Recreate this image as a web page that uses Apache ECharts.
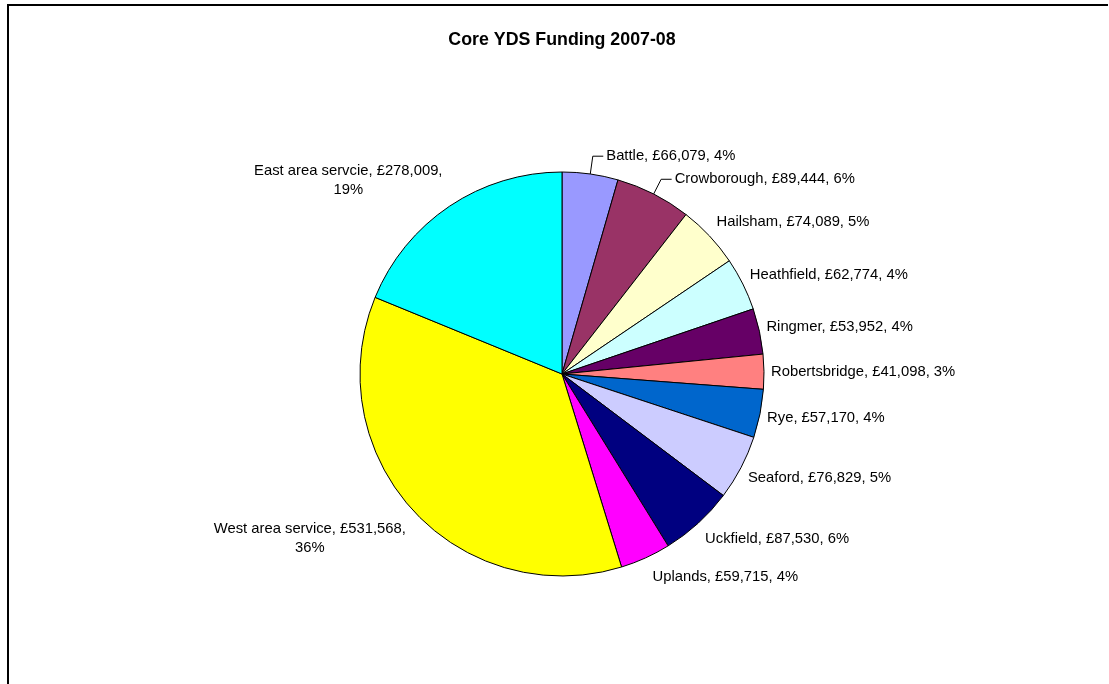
<!DOCTYPE html>
<html>
<head>
<meta charset="utf-8">
<script src="https://cdn.jsdelivr.net/npm/echarts@6/dist/echarts.min.js"></script>
<style>
  html, body { margin: 0; padding: 0; background: #fff; }
  #chart { width: 1109px; height: 684px; }
</style>
</head>
<body>
<div id="chart"></div>
<script>
// Core YDS funding by area, 2007-08 (GBP)
const titleText = 'Core YDS Funding 2007-08';
const areaNames = [
  'Battle', 'Crowborough', 'Hailsham', 'Heathfield', 'Ringmer', 'Robertsbridge',
  'Rye', 'Seaford', 'Uckfield', 'Uplands', 'West area service', 'East area servcie'
];
const funding = [
  66079, 89444, 74089, 62774, 53952, 41098,
  57170, 76829, 87530, 59715, 531568, 278009
];
const sliceColors = [
  '#9999FF', '#993366', '#FFFFCC', '#CCFFFF', '#660066', '#FF8080',
  '#0066CC', '#CCCCFF', '#000080', '#FF00FF', '#FFFF00', '#00FFFF'
];

// Labels that break before the percentage
const wrappedLabels = ['East area servcie', 'West area service'];
// Labels pulled away from the pie and joined to it with a leader line
const leaderLabels = ['Battle', 'Crowborough'];
// Extra label offsets [dx, dy] in px
const labelOffsets = {
  'Battle': [9, 3],
  'Crowborough': [14, 4],
  'West area service': [0, 8]
};

const FONT = '"Liberation Sans", Arial, Helvetica, sans-serif';

function money(v) {
  return String(v).replace(/\B(?=(\d{3})+(?!\d))/g, ',');
}

const pieData = areaNames.map(function (name, i) {
  const item = {
    name: name,
    value: funding[i],
    itemStyle: { color: sliceColors[i] }
  };
  if (leaderLabels.indexOf(name) < 0) {
    item.labelLine = { lineStyle: { opacity: 0 } };
  }
  return item;
});

const chart = echarts.init(document.getElementById('chart'), null, { renderer: 'canvas' });

chart.setOption({
  animation: false,
  backgroundColor: '#ffffff',
  title: {
    text: titleText,
    left: 562,
    textAlign: 'center',
    top: 31,
    padding: 0,
    textStyle: {
      fontFamily: FONT,
      fontSize: 17.8,
      fontWeight: 'bold',
      color: '#000'
    }
  },
  graphic: [{
    type: 'polyline',
    shape: { points: [[8, 684], [8, 5], [1108, 5]] },
    style: { stroke: '#000', lineWidth: 2, fill: null },
    silent: true
  }],
  series: [{
    type: 'pie',
    center: [562, 374],
    radius: 202,
    startAngle: 90,
    clockwise: true,
    avoidLabelOverlap: false,
    itemStyle: { borderColor: '#000', borderWidth: 1 },
    emphasis: { disabled: true },
    label: {
      show: true,
      position: 'outside',
      fontFamily: FONT,
      fontSize: 14.8,
      lineHeight: 19,
      color: '#000',
      formatter: function (p) {
        const sep = wrappedLabels.indexOf(p.name) >= 0 ? '\n' : ' ';
        return p.name + ', £' + money(p.value) + ',' + sep + Math.round(p.percent) + '%';
      }
    },
    labelLine: {
      show: true,
      length: 15,
      length2: 0,
      lineStyle: { color: '#000', width: 1 }
    },
    labelLayout: function (p) {
      const pts = p.labelLinePoints;
      if (!pts || pts.length < 2) return {};
      const p0 = pts[0], p1 = pts[1];
      const dx = p1[0] - p0[0], dy = p1[1] - p0[1];
      const len = Math.sqrt(dx * dx + dy * dy) || 1;
      const ux = dx / len, uy = dy / len;
      const w = p.labelRect.width, h = p.labelRect.height;
      const name = areaNames[p.dataIndex];
      const off = labelOffsets[name] || [0, 0];
      const onRight = ux >= 0;
      const cy = p0[1] + uy * (11.5 + h / 2) + off[1];
      const left = (onRight ? p0[0] + 7 : p0[0] - 7 - w) + off[0];
      const out = { x: left + w / 2, y: cy, align: 'center', verticalAlign: 'middle' };
      if (leaderLabels.indexOf(name) >= 0) {
        const t = Math.abs(uy) > 1e-6 ? (cy - p0[1]) / uy : 0;
        out.labelLinePoints = [[p0[0], p0[1]], [p0[0] + ux * t, cy], [left - 3, cy]];
      } else {
        out.labelLinePoints = [[p0[0], p0[1]], [p0[0], p0[1]], [p0[0], p0[1]]];
      }
      return out;
    },
    data: pieData
  }]
});
</script>
</body>
</html>
